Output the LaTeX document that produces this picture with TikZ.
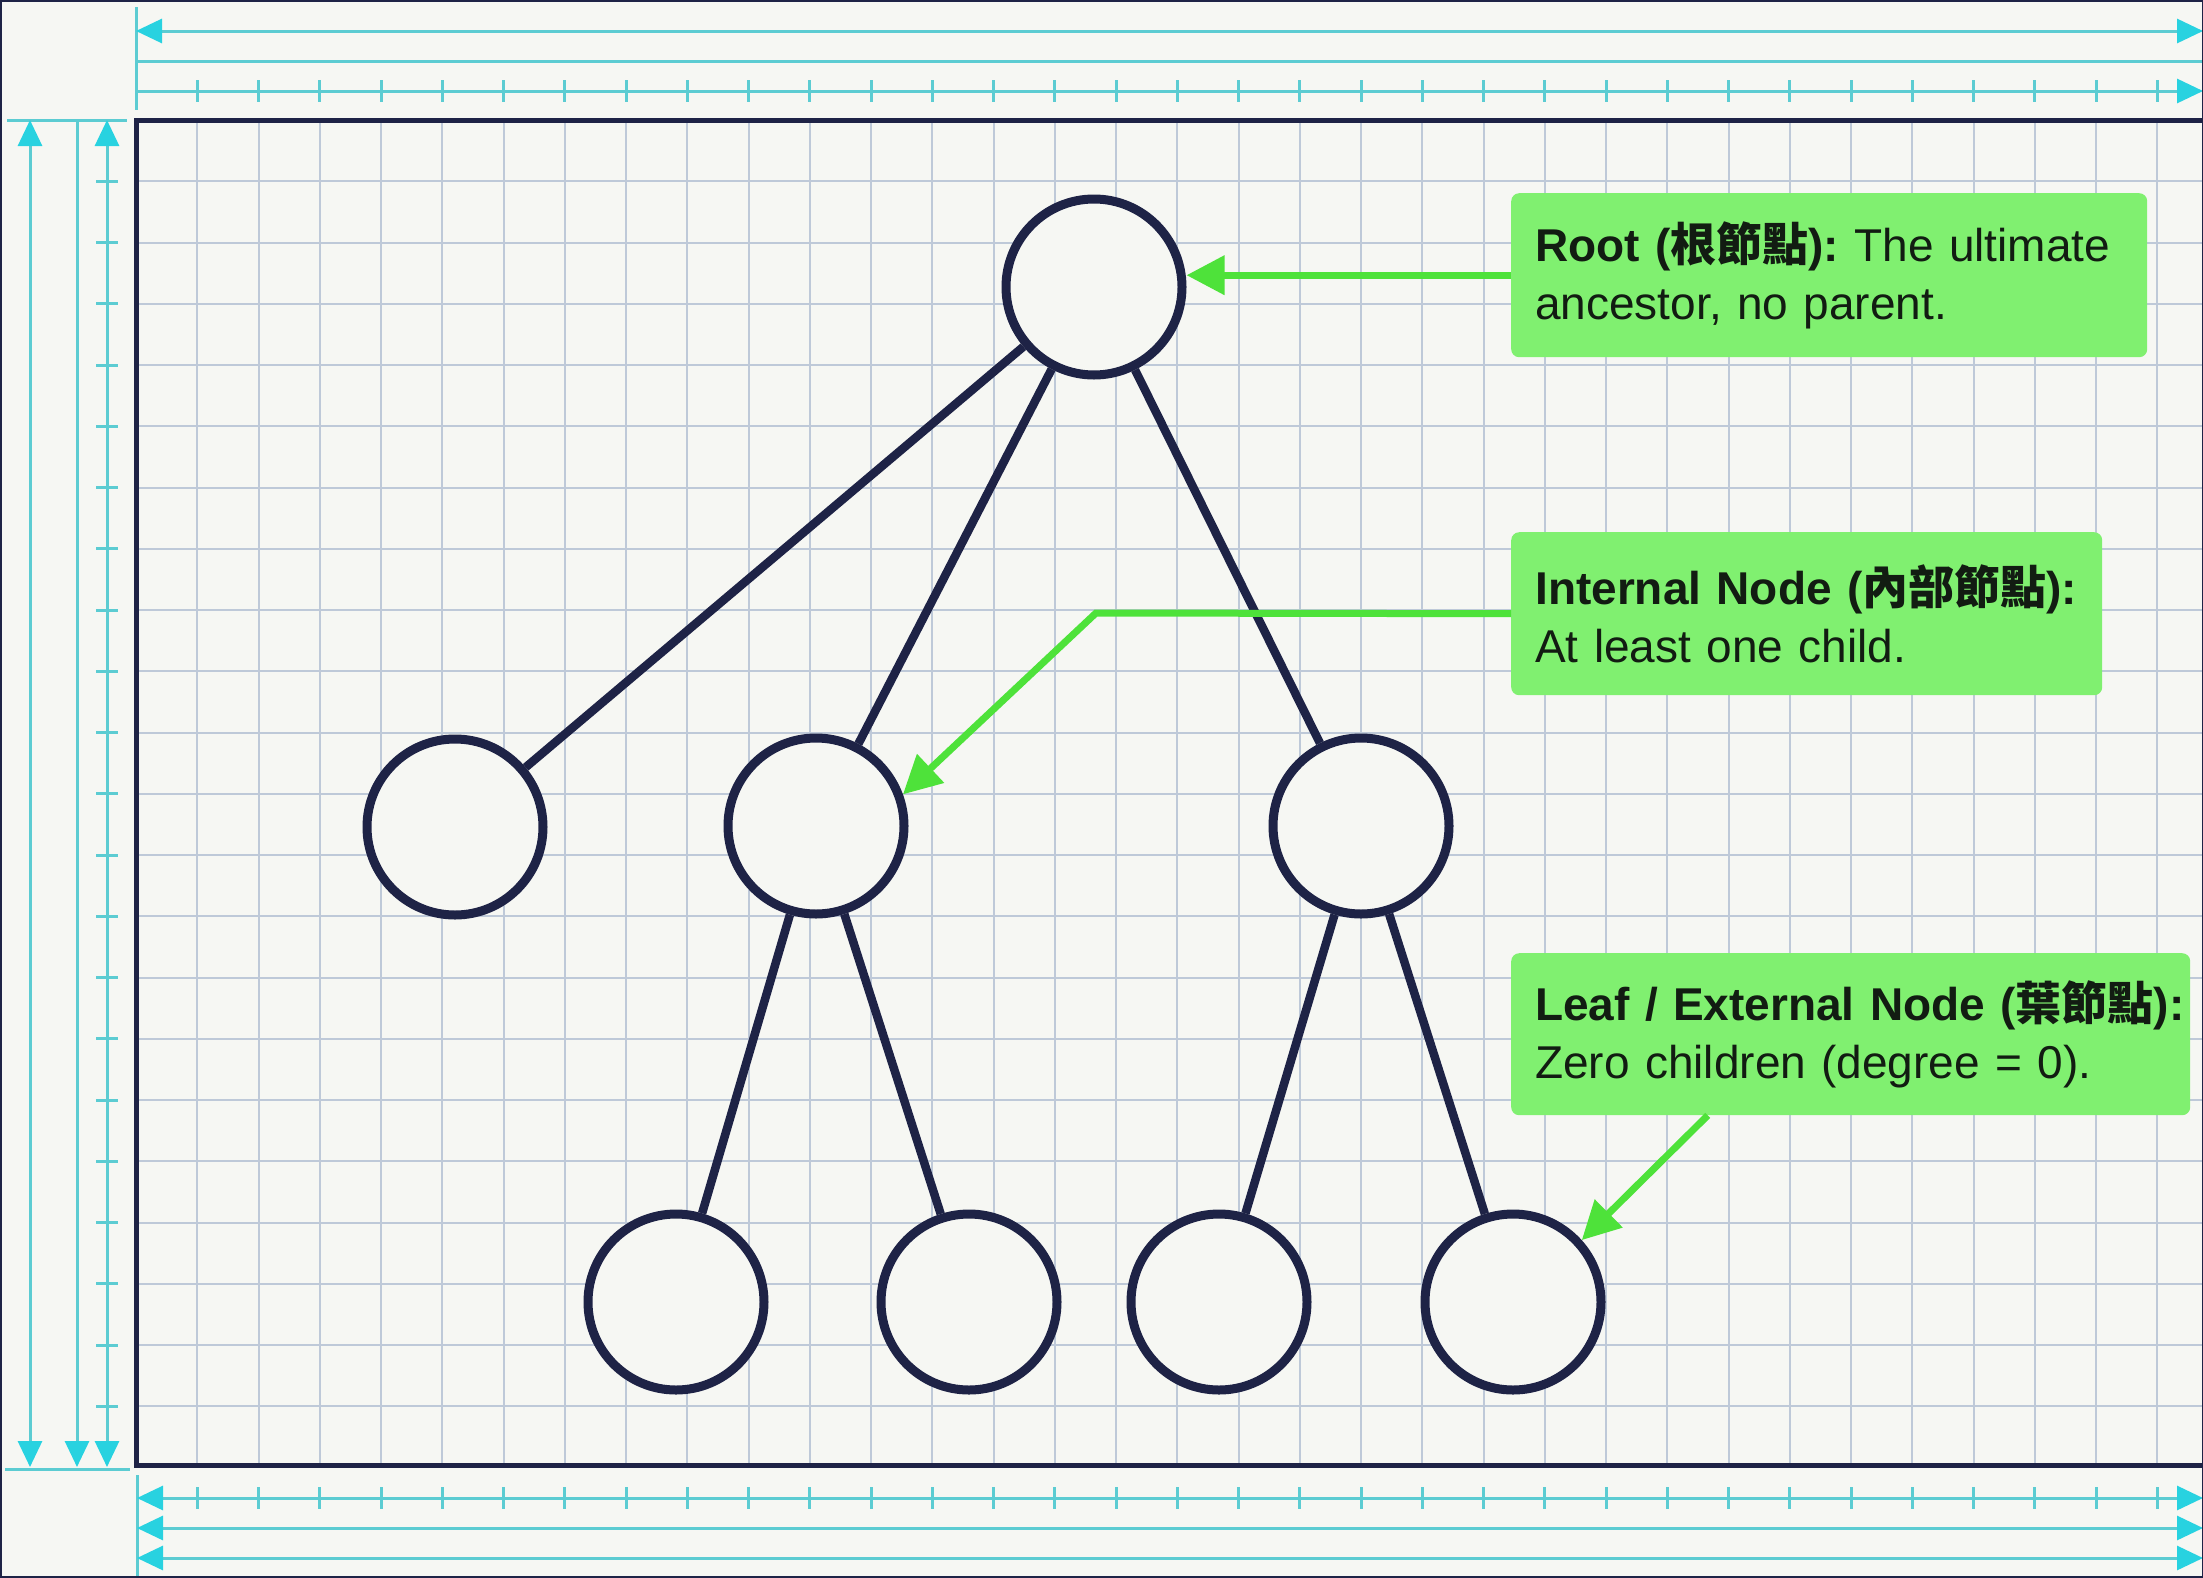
\documentclass[tikz,border=0pt]{standalone}
\usepackage{fontspec}
\setmainfont{Liberation Sans}
\newfontfamily\cjk{Noto Sans CJK TC}
\usetikzlibrary{arrows.meta}

\definecolor{paper}{RGB}{246,247,243}
\definecolor{navy}{RGB}{30,35,70}
\definecolor{gridc}{RGB}{190,201,216}
\definecolor{dim}{RGB}{92,204,210}
\definecolor{tip}{RGB}{40,210,224}
\definecolor{notefill}{RGB}{128,240,112}
\definecolor{notetext}{RGB}{18,28,18}
\definecolor{pointer}{RGB}{78,226,58}

\begin{document}
\begin{tikzpicture}
[every node/.style={inner sep=0pt},
 tnode/.style={circle, minimum size=176pt, line width=9pt, draw=navy, fill=paper},
 tedge/.style={line width=8.5pt, color=navy},
 gridline/.style={line width=2pt, color=gridc},
 dimline/.style={line width=3pt, color=dim},
 both/.style={{Triangle[length=26pt,width=24pt,color=tip]}-{Triangle[length=26pt,width=24pt,color=tip]}},
 endtip/.style={-{Triangle[length=26pt,width=24pt,color=tip]}},
 note/.style={rectangle, rounded corners=8pt, fill=notefill, anchor=north west, inner xsep=24pt,
   align=left, text=notetext, font=\fontsize{46pt}{58pt}\selectfont\frenchspacing},
 pointer/.style={line width=7pt, color=pointer, -{Triangle[length=38pt,width=38pt]}}]

\useasboundingbox (0pt, 0pt) rectangle (2203pt, -1577pt);
\fill [paper] (0pt, 0pt) rectangle (2203pt, -1577pt);

% grid paper
\foreach \i in {1,...,33}
  \draw [gridline] ({136pt+61.25pt*\i}, -120pt) -- ({136pt+61.25pt*\i}, -1465pt);
\foreach \j in {1,...,21}
  \draw [gridline] (136pt, {-120pt-61.25pt*\j}) -- (2203pt, {-120pt-61.25pt*\j});
\draw [line width=5pt, color=navy] (2210pt, -120pt) -- (136pt, -120pt) -- (136pt, -1465pt) -- (2210pt, -1465pt);

% dimension lines, top
\draw [dimline] (136pt, -7pt) -- (136pt, -110pt);
\draw [dimline, both] (136pt, -31pt) -- (2203pt, -31pt);
\draw [dimline] (136pt, -61pt) -- (2203pt, -61pt);
\draw [dimline, endtip] (136pt, -91pt) -- (2203pt, -91pt);
\foreach \i in {1,...,33}
  \draw [dimline] ({136pt+61.25pt*\i}, -80pt) -- ({136pt+61.25pt*\i}, -102pt);

% dimension lines, left
\draw [dimline] (7pt, -120pt) -- (127pt, -120pt);
\draw [dimline] (5pt, -1469pt) -- (130pt, -1469pt);
\draw [dimline, both] (30pt, -120pt) -- (30pt, -1467pt);
\draw [dimline, endtip] (77pt, -120pt) -- (77pt, -1467pt);
\draw [dimline, both] (107pt, -120pt) -- (107pt, -1467pt);
\foreach \j in {1,...,21}
  \draw [dimline] (96pt, {-120pt-61.25pt*\j}) -- (118pt, {-120pt-61.25pt*\j});

% dimension lines, bottom
\draw [dimline] (137pt, -1475pt) -- (137pt, -1577pt);
\draw [dimline, both] (137pt, -1498pt) -- (2203pt, -1498pt);
\draw [dimline, both] (137pt, -1528pt) -- (2203pt, -1528pt);
\draw [dimline, both] (137pt, -1558pt) -- (2203pt, -1558pt);
\foreach \i in {1,...,33}
  \draw [dimline] ({136pt+61.25pt*\i}, -1487pt) -- ({136pt+61.25pt*\i}, -1509pt);

% tree
\node (root) [tnode] at (1094pt, -287pt) {};
\node (a) [tnode] at (455pt, -827pt) {};
\node (b) [tnode] at (816pt, -826pt) {};
\node (c) [tnode] at (1361pt, -826pt) {};
\node (d) [tnode] at (676pt, -1302pt) {};
\node (e) [tnode] at (969pt, -1302pt) {};
\node (f) [tnode] at (1219pt, -1302pt) {};
\node (g) [tnode] at (1513pt, -1302pt) {};
\draw [tedge] (root) -- (a);
\draw [tedge] (root) -- (b);
\draw [tedge] (root) -- (c);
\draw [tedge] (b) -- (d);
\draw [tedge] (b) -- (e);
\draw [tedge] (c) -- (f);
\draw [tedge] (c) -- (g);

% callouts
\node (rootnote) [note, text width=588pt, minimum height=164pt] at (1511pt, -193pt)
  {{\bfseries Root ({\cjk 根節點}):} The ultimate\\ancestor, no parent.};
\node (inote) [note, text width=543pt, minimum height=163pt] at (1511pt, -532pt)
  {\mbox{\bfseries Internal Node ({\cjk 內部節點}):}\\At least one child.};
\node (lnote) [note, text width=631pt, minimum height=162pt] at (1511pt, -953pt)
  {\mbox{\bfseries Leaf / External Node ({\cjk 葉節點}):}\\Zero children (degree = 0).};

\coordinate (ibend) at (1096pt, -613pt);
\draw [pointer] (rootnote.west) -- (rootnote.west -| root.east);
\draw [pointer] (inote.west) -- (ibend) -- (b.20);
\draw [pointer] ([xshift=-143pt]lnote.south) -- (g.42);

\draw [line width=3pt, color=navy] (0pt, 0pt) rectangle (2203pt, -1577pt);
\end{tikzpicture}
\end{document}
